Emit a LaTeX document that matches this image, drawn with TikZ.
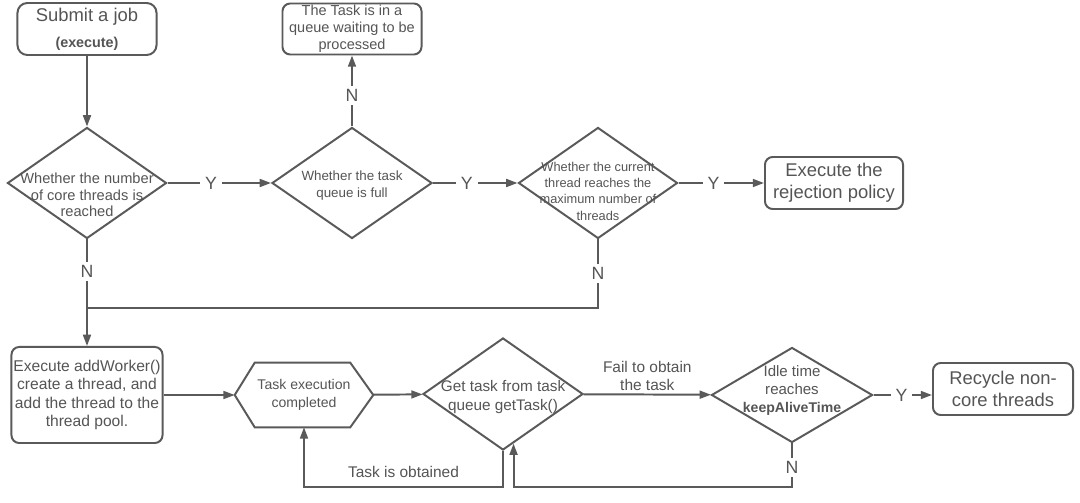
\documentclass[tikz,border=0pt]{standalone}
\usepackage{fontspec}
\setmainfont{Liberation Sans}
\usetikzlibrary{arrows.meta,shapes.geometric}
\definecolor{ink}{HTML}{555555}
\definecolor{stroke}{HTML}{5A5A5A}
\newcommand{\setfs}[2]{\fontsize{#1}{#2}\selectfont}
\tikzset{
  box/.style={draw=stroke, line width=1.4pt, rounded corners=5.5pt, inner sep=0pt,
              text=ink, align=center, font=\setfs{13.1pt}{15.4pt},
              minimum width=3.475cm, minimum height=1.3cm},
  decision/.style={diamond, draw=stroke, line width=1.4pt, inner sep=0pt,
                   minimum width=3.975cm, minimum height=2.775cm},
  dtext/.style={text=ink, align=center, inner sep=0pt},
  arr/.style={-{Triangle[length=8pt,width=5.6pt]}, line width=1.4pt, draw=stroke},
  link/.style={line width=1.4pt, draw=stroke},
  yn/.style={fill=white, text=ink, font=\setfs{12.6pt}{14pt}, inner xsep=3.5pt, inner ysep=2.5pt},
}

\begin{document}
\begin{tikzpicture}[x=0.025cm, y=-0.025cm,
    note/.style={text=ink, align=center, font=\setfs{11pt}{12.8pt}, inner sep=2pt},
    hexa/.style={text=ink, align=center, font=\setfs{10pt}{12.4pt}, inner sep=0pt,
                 minimum width=3.45cm, minimum height=1.6cm}]
  \fill[white] (0,0) rectangle (1080,503);
  \useasboundingbox (0,0) rectangle (1080,503);

  \node[box, rounded corners=7pt] (submit) at (87,29)
    {Submit a job\\[3pt]{\bfseries\setfs{10.2pt}{12pt}(execute)}};
  \node[box, font=\setfs{10.3pt}{12.1pt}, minimum height=1.275cm] (queue) at (352,29)
    {The Task is in a\\queue waiting to be\\processed};
  \node[box, minimum width=3.45cm] (reject) at (834,183) {Execute the\\rejection policy};

  \node[decision, label={[dtext, font=\setfs{10.4pt}{11.9pt}, yshift=-8.5pt]center:{Whether the number\\of core threads is\\reached}}] (d1) at (87,183) {};
  \node[decision, minimum width=4cm, label={[dtext, font=\setfs{9.5pt}{12.1pt}, yshift=-2pt]center:{Whether the task\\queue is full}}] (d2) at (352,183) {};
  \node[decision, label={[dtext, font=\setfs{9.1pt}{11.6pt}, yshift=-5.7pt]center:{Whether the current\\thread reaches the\\maximum number of\\threads}}] (d3) at (598,183) {};

  \node[box, font=\setfs{11.1pt}{13pt}, minimum width=3.775cm, minimum height=2.4cm] (work) at (87,395)
    {Execute addWorker()\\create a thread, and\\add the thread to the\\thread pool.};
  \node[hexa] (hex) at (304,395) {Task execution\\completed};
  \draw[link] (hex.west) -- ([xshift=.5cm]hex.north west) -- ([xshift=-.575cm]hex.north east)
    -- (hex.east) -- ([xshift=-.575cm]hex.south east) -- ([xshift=.5cm]hex.south west) -- cycle;
  \node[decision, minimum width=4cm, minimum height=2.8cm, label={[dtext, font=\setfs{10.9pt}{13.5pt}, yshift=-2.5pt]center:{Get task from task\\queue getTask()}}] (d4) at (503,394) {};
  \node[decision, minimum width=4.025cm, minimum height=2.375cm, label={[dtext, font=\setfs{10.7pt}{12.8pt}, yshift=3pt]center:{Idle time\\reaches\\{\bfseries\setfs{10pt}{12pt}keepAliveTime}}}] (d5) at (792,395) {};
  \node[box, minimum width=3.5cm] (recycle) at (1003,389) {Recycle non-\\core threads};

  \coordinate (merge) at (87,308);
  \coordinate (low) at (0,487);

  \draw[arr] (submit) -- (d1);
  \draw[arr] (d1) -- node[yn, pos=.42]{Y} (d2);
  \draw[arr] (d2) -- node[yn, pos=.4]{Y} (d3);
  \draw[arr] (d3) -- node[yn, pos=.41]{Y} (reject);
  \draw[arr] (d2) -- node[yn, pos=.44]{N} (queue);
  \draw[arr] (d1) -- node[yn, pos=.3]{N} (work);
  \draw[link] (d3.south) |- node[yn, pos=.25]{N} (merge);

  \draw[arr] (work) -- (hex);
  \draw[arr] (hex) -- (d4);
  \draw[arr] (d4) -- node[note, above]{Fail to obtain\\the task} (d5);
  \draw[arr] (d5) -- node[yn, pos=.48]{Y} (d5 -| recycle.west);
  \draw[arr] (d4.south) -- (d4.south |- low) -| node[note, pos=.25, above=4pt]{Task is obtained} (hex.south);
  \draw[arr] (d5.south) -- node[yn, pos=.55]{N} (d5.south |- low) -| (d4.-78);
\end{tikzpicture}
\end{document}
